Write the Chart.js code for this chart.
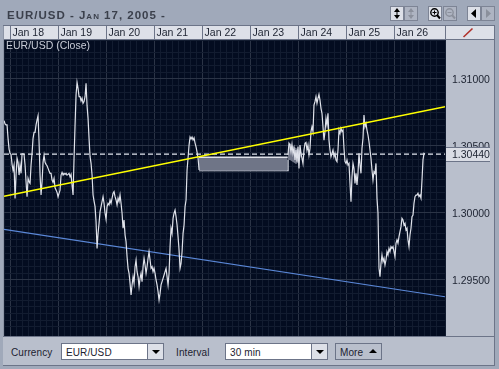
<!DOCTYPE html>
<html>
<head>
<meta charset="utf-8">
<title>EUR/USD</title>
<script src="https://cdn.jsdelivr.net/npm/chart.js"></script>
<style>
  body { margin: 0; width: 499px; height: 369px; overflow: hidden; background: #a0a9ba; position: relative;
         font: 10px "Liberation Sans", Arial, sans-serif; color: #1c2230; }
  canvas { position: absolute; left: 0; top: 0; }
  .abs { position: absolute; }
  #title { left: 7px; top: 9px; font: bold 11.5px "Liberation Sans", sans-serif; font-variant: small-caps;
           letter-spacing: 1px; color: #3b404c; white-space: nowrap; }
  .btn { box-sizing: border-box; height: 15px; width: 14px; top: 6px; background: #dde0e8; border: 1px solid #7d8495; }
  .btn.off { background: #aeb4c2; }
  .btn svg { display: block; }
  .label { top: 347px; letter-spacing: 0.1px; }
  .field { box-sizing: border-box; top: 343px; height: 17px; width: 103px; background: #fff; border: 1px solid #6c7488;
           padding: 3px 0 0 4px; letter-spacing: 0.1px; }
  .drop { box-sizing: border-box; top: 343px; height: 17px; width: 17px; background: #dde0e8; border: 1px solid #6c7488; }
  .tri { width: 0; height: 0; border-left: 4px solid transparent; border-right: 4px solid transparent; border-top: 4px solid #000; position: absolute; left: 4px; top: 6px; }
  #more { box-sizing: border-box; left: 335px; top: 343px; width: 47px; height: 17px; border: 1px solid #6c7488; padding: 3px 0 0 4px; letter-spacing: 0.1px; }
  #more i { position: absolute; left: 33px; top: 5px; width: 0; height: 0; border-left: 4px solid transparent; border-right: 4px solid transparent; border-bottom: 4px solid #000; }
</style>
</head>
<body>
<canvas id="fxChart" width="499" height="369"></canvas>

<div class="abs" id="title">EUR/USD - Jan 17, 2005 -</div>

<div class="abs btn" style="left:390px"><svg width="12" height="13"><path d="M6 1l3 4H3zM6 12l3-4H3z" fill="#000"/><rect x="5.5" y="4" width="1" height="5" fill="#000"/></svg></div>
<div class="abs btn off" style="left:404px"><svg width="12" height="13"><path d="M6 1l3 4H3zM6 12l3-4H3z" fill="#8b909c"/><rect x="5.5" y="4" width="1" height="5" fill="#8b909c"/></svg></div>
<div class="abs btn" style="left:428px"><svg width="12" height="13"><circle cx="5.5" cy="5.5" r="3.7" fill="none" stroke="#000" stroke-width="1.4"/><path d="M5.5 3.5v4M3.5 5.5h4" stroke="#000"/><path d="M8 8l3 3.5" stroke="#000" stroke-width="2"/></svg></div>
<div class="abs btn off" style="left:443px"><svg width="12" height="13"><circle cx="5.5" cy="5.5" r="3.7" fill="none" stroke="#8b909c" stroke-width="1.4"/><path d="M3.5 5.5h4" stroke="#8b909c"/><path d="M8 8l3 3.5" stroke="#8b909c" stroke-width="2"/></svg></div>
<div class="abs btn" style="left:467px"><svg width="12" height="13"><path d="M8 2v9L3 6.5z" fill="#000"/></svg></div>
<div class="abs btn off" style="left:481px"><svg width="12" height="13"><path d="M4 2v9l5-4.5z" fill="#8b909c"/></svg></div>

<div class="abs" style="left:3px;top:336px;width:492px;height:30px;background:#b9bfcc;border-top:1px solid #6c7488;border-bottom:1px solid #6c7488;border-right:1px solid #6c7488;box-sizing:border-box"></div>
<div class="abs label" style="left:11px">Currency</div>
<div class="abs field" style="left:61px">EUR/USD</div>
<div class="abs drop" style="left:147px"><span class="tri"></span></div>
<div class="abs label" style="left:176px">Interval</div>
<div class="abs field" style="left:225px">30 min</div>
<div class="abs drop" style="left:311px"><span class="tri"></span></div>
<div class="abs" id="more">More<i></i></div>

<script>
// Chart data

const dayTicks = [18, 19, 20, 21, 22, 23, 24, 25, 26];
const dayLabels = ['Jan 18', 'Jan 19', 'Jan 20', 'Jan 21', 'Jan 22', 'Jan 23', 'Jan 24', 'Jan 25', 'Jan 26'];
const priceTicks = [1.295, 1.3, 1.305, 1.31];
const priceLabels = ['1.29500', '1.30000', '1.30500', '1.31000'];
const lastPrice = 1.3044;
const lastPriceLabel = '1.30440';
const seriesName = 'EUR/USD (Close)';

// 30 min closes before and after the weekend
const closeStartA = 17.87;
const closeA = [
  1.30689, 1.30664, 1.30657, 1.30657, 1.30557, 1.30477, 1.30445, 1.30437, 1.30363, 1.30320,
  1.30358, 1.30109, 1.30283, 1.30408, 1.30378, 1.30283, 1.30358, 1.30296, 1.30442, 1.30442,
  1.30437, 1.30358, 1.30233, 1.30121, 1.30258, 1.30233, 1.30221, 1.30358, 1.30445, 1.30557,
  1.30602, 1.30602, 1.30657, 1.30694, 1.30726, 1.30532, 1.30283, 1.30134, 1.30233, 1.30378,
  1.30432, 1.30378, 1.30363, 1.30353, 1.30333, 1.30313, 1.30296, 1.30296, 1.30246, 1.30228,
  1.30258, 1.30188, 1.30171, 1.30154, 1.30121, 1.30146, 1.30171, 1.30283, 1.30303, 1.30283,
  1.30296, 1.30288, 1.30296, 1.30283, 1.30288, 1.30296, 1.30271, 1.30288, 1.30208, 1.30134,
  1.30408, 1.30657, 1.30881, 1.30975, 1.30930, 1.30868, 1.30868, 1.30836, 1.30856, 1.30818,
  1.30831, 1.30868, 1.30968, 1.30801, 1.30706, 1.30557, 1.30420, 1.30370, 1.30283, 1.30134,
  1.30089,
  1.30047, 1.29935, 1.29736, 1.29848, 1.29923, 1.30010, 1.30047, 1.30085, 1.30122, 1.30072,
  1.29998, 1.29953, 1.30047, 1.30072, 1.30060, 1.30097, 1.30072, 1.30110, 1.30147, 1.30159,
  1.30122, 1.30097, 1.30060, 1.30110, 1.30085, 1.30134, 1.30072, 1.29998, 1.29886, 1.29948,
  1.29836, 1.29786, 1.29674, 1.29587, 1.29550, 1.29475, 1.29388, 1.29463, 1.29525, 1.29475,
  1.29599, 1.29649, 1.29562, 1.29525, 1.29450, 1.29512, 1.29550, 1.29488, 1.29599, 1.29662,
  1.29612, 1.29550, 1.29599, 1.29662, 1.29711, 1.29649, 1.29587, 1.29599, 1.29562, 1.29587,
  1.29550, 1.29500, 1.29463, 1.29413, 1.29351, 1.29400, 1.29463, 1.29488, 1.29512, 1.29537,
  1.29562, 1.29587, 1.29525, 1.29463, 1.29550, 1.29749, 1.29886, 1.29848, 1.29960, 1.29998,
  1.30022, 1.29973, 1.29910, 1.29823, 1.29724, 1.29587, 1.29624, 1.29711, 1.29848, 1.29910,
  1.30047, 1.30097, 1.30321, 1.30410, 1.30507, 1.30567, 1.30552, 1.30567, 1.30545, 1.30560,
  1.30522, 1.30493, 1.30455, 1.30410, 1.30321
];
const closeStartB = 23.785;
const closeB = [
  1.30433, 1.30520, 1.30507, 1.30457, 1.30512, 1.30445, 1.30482, 1.30395, 1.30470, 1.30383,
  1.30495, 1.30333, 1.30507, 1.30445, 1.30408, 1.30370, 1.30470, 1.30520, 1.30527, 1.30470,
  1.30507, 1.30433, 1.30482, 1.30607, 1.30644, 1.30607, 1.30806, 1.30831, 1.30868, 1.30818,
  1.30855, 1.30885, 1.30843, 1.30781, 1.30744, 1.30644, 1.30544, 1.30607, 1.30706, 1.30656,
  1.30744, 1.30544, 1.30470, 1.30420, 1.30445, 1.30470, 1.30420, 1.30445, 1.30395, 1.30383,
  1.30470, 1.30619, 1.30594, 1.30632, 1.30607, 1.30619, 1.30482, 1.30383, 1.30370, 1.30395,
  1.30358, 1.30370, 1.30221, 1.30084, 1.30271, 1.30370, 1.30333, 1.30221, 1.30296, 1.30209,
  1.30296, 1.30445, 1.30358, 1.30296, 1.30482, 1.30557, 1.30731, 1.30644, 1.30669, 1.30619,
  1.30582, 1.30532, 1.30470, 1.30408, 1.30321, 1.30246, 1.30308, 1.30296, 1.30370, 1.30109,
  1.30000,
  1.29587, 1.29525, 1.29624, 1.29687, 1.29637, 1.29662, 1.29612, 1.29649, 1.29712, 1.29687,
  1.29736, 1.29712, 1.29749, 1.29736, 1.29749, 1.29712, 1.29674, 1.29774, 1.29799, 1.29774,
  1.29823, 1.29861, 1.29898, 1.29960, 1.29948, 1.29910, 1.29923, 1.29873, 1.29886, 1.29799,
  1.29749, 1.29836, 1.29886, 1.29973, 1.29985, 1.30072, 1.30122, 1.30134, 1.30134, 1.30147,
  1.30122, 1.30134, 1.30110, 1.30246, 1.30396, 1.30445, 1.30440
];

// Trend lines, from the left edge to the right edge
const trendDays = [17.869, 27.056];
const yellowTrend = [1.30125, 1.30793];
const blueTrend = [1.29878, 1.29375];

// Grey selected zone over the weekend
const bandDays = [21.931, 23.779, 23.785, 23.827, 23.889, 23.952, 24.014, 24.076];
const bandUpper = [1.30416, 1.30416, 1.30485, 1.30522, 1.30500, 1.30485, 1.30470, 1.30448];
const bandLower = [1.30316, 1.30316, 1.30395, 1.30395, 1.30380, 1.30366, 1.30380, 1.30448];

const minDay = 17.869, maxDay = 27.056;
const minPrice = 1.29082, maxPrice = 1.31291;

const traceColor = '#dfe2ea';
const ptsPerDay = 48;

function toPoints(xs, ys) {
    return ys.map((y, i) => ({ x: xs[i], y: y }));
}
function closePoints(start, values) {
    return values.map((y, i) => ({ x: start + i / ptsPerDay, y: y }));
}
function isMajorPrice(v) {
    return Math.abs(v * 200 - Math.round(v * 200)) < 1e-6;
}

const lineBase = { pointRadius: 0, tension: 0, fill: false, showLine: true };

// Panel, header cells and the texts that sit on top of the plot
const chromePlugin = {
    id: 'chrome',
    beforeDraw(chart) {
        const c = chart.ctx, a = chart.chartArea, xs = chart.scales.x;
        c.save();
        c.fillStyle = '#b9bfcc';
        c.fillRect(a.right, a.top, 494 - a.right, a.bottom - a.top);
        c.fillStyle = '#dde0e8';
        c.fillRect(a.left, 26, 490, a.top - 26);
        c.fillStyle = '#030c20';
        c.fillRect(a.left, a.top, a.right - a.left, a.bottom - a.top);
        // frame
        c.fillStyle = '#6c7488';
        c.fillRect(3, 25, 492, 1);
        c.fillRect(3, a.top - 1, 492, 1);
        c.fillRect(494, 25, 1, 340);
        c.fillRect(a.right, 26, 1, 14);
        c.fillStyle = '#8d95a6';
        c.fillRect(3, 26, 1, 340);
        xs.ticks.forEach(t => {
            if (Number.isInteger(t.value)) {
                c.fillStyle = '#6c7488';
                c.fillRect(Math.round(xs.getPixelForValue(t.value)), 26, 1, 14);
            }
        });
        // red line tool
        c.strokeStyle = '#b0302a';
        c.lineWidth = 1.6;
        c.beginPath();
        c.moveTo(463.5, 37);
        c.lineTo(472.5, 28.5);
        c.stroke();
        c.restore();
    },
    afterDraw(chart) {
        const c = chart.ctx, a = chart.chartArea, ys = chart.scales.y;
        const py = Math.round(ys.getPixelForValue(lastPrice));
        c.save();
        c.fillStyle = '#dadde5';
        c.fillRect(a.right + 1, py - 6, 44, 13);
        c.fillStyle = '#6c7488';
        c.fillRect(a.right + 1, py - 7, 44, 1);
        c.fillRect(a.right + 1, py + 7, 44, 1);
        c.fillStyle = '#1c2230';
        c.font = '10.5px "Liberation Sans", Arial, sans-serif';
        c.textBaseline = 'middle';
        c.fillText(lastPriceLabel, 452, py + 1);
        c.fillStyle = '#c8ccd6';
        c.fillText(seriesName, a.left + 2, a.top + 6);
        c.restore();
    }
};

new Chart(document.getElementById('fxChart'), {
    type: 'scatter',
    data: {
        datasets: [
            { ...lineBase, label: 'Level', order: 5, data: toPoints(trendDays, [lastPrice, lastPrice]), borderColor: '#e4e7ef', borderWidth: 1.2, borderDash: [5, 3] },
            { ...lineBase, label: 'Zone top', order: 4, data: toPoints(bandDays, bandUpper), borderColor: traceColor, borderWidth: 1.4, backgroundColor: '#6f7587', fill: '+1',
              segment: { borderColor: ctx => ctx.p1DataIndex <= 1 ? traceColor : 'transparent' } },
            { ...lineBase, label: 'Zone bottom', order: 4, data: toPoints(bandDays, bandLower), borderColor: traceColor, borderWidth: 1.4,
              segment: { borderColor: ctx => ctx.p1DataIndex <= 2 ? traceColor : 'transparent' } },
            { ...lineBase, label: 'Blue trend', order: 3, data: toPoints(trendDays, blueTrend), borderColor: '#5b88d8', borderWidth: 1.2 },
            { ...lineBase, label: seriesName, order: 2, data: closePoints(closeStartA, closeA), borderColor: traceColor, borderWidth: 1.2 },
            { ...lineBase, label: seriesName, order: 2, data: closePoints(closeStartB, closeB), borderColor: traceColor, borderWidth: 1.2 },
            { ...lineBase, label: 'Yellow trend', order: 1, data: toPoints(trendDays, yellowTrend), borderColor: '#ffff00', borderWidth: 1.5 }
        ]
    },
    options: {
        responsive: false,
        animation: false,
        layout: { padding: { left: 4, top: 26, right: 5, bottom: 33 } },
        plugins: { legend: { display: false }, tooltip: { enabled: false } },
        scales: {
            x: {
                type: 'linear',
                position: 'top',
                min: minDay,
                max: maxDay,
                afterFit(s) { s.height = 14; },
                border: { display: false },
                grid: {
                    drawTicks: false,
                    color: ctx => Number.isInteger(ctx.tick.value) ? '#2b3446' : '#121c30'
                },
                ticks: {
                    stepSize: 0.125,
                    autoSkip: false,
                    maxRotation: 0,
                    padding: 1,
                    labelOffset: 18,
                    color: '#1c2230',
                    font: { family: '"Liberation Sans", Arial, sans-serif', size: 10.5 },
                    callback(v) {
                        const i = dayTicks.indexOf(v);
                        return i >= 0 ? dayLabels[i] : '';
                    }
                }
            },
            y: {
                type: 'linear',
                position: 'right',
                min: minPrice,
                max: maxPrice,
                afterFit(s) { s.width = 49; },
                border: { display: false },
                grid: {
                    drawTicks: false,
                    color: ctx => isMajorPrice(ctx.tick.value) ? '#2b3446' : '#121c30'
                },
                ticks: {
                    stepSize: 0.0005,
                    autoSkip: false,
                    padding: 7,
                    labelOffset: 1,
                    color: '#1c2230',
                    font: { family: '"Liberation Sans", Arial, sans-serif', size: 10.5 },
                    callback(v) {
                        const i = priceTicks.findIndex(p => Math.abs(p - v) < 1e-6);
                        return i >= 0 ? priceLabels[i] : '';
                    }
                }
            }
        }
    },
    plugins: [chromePlugin]
});
</script>
</body>
</html>
